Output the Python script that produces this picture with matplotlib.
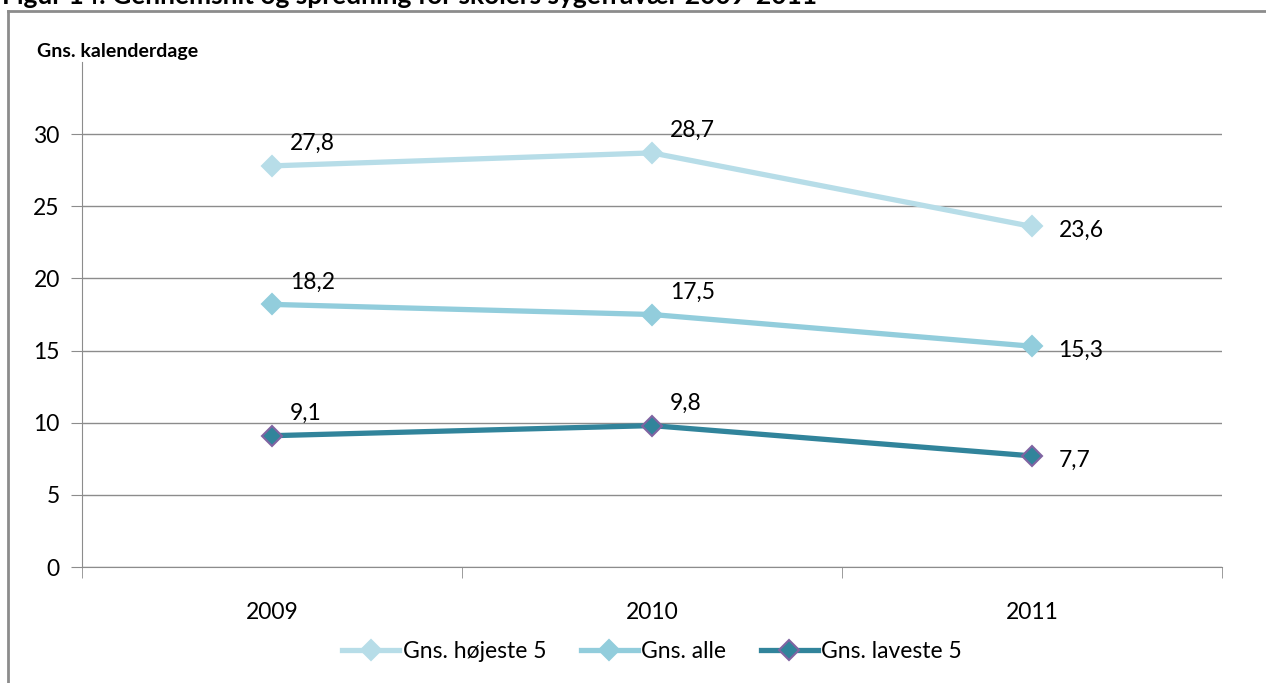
import matplotlib.pyplot as plt
from matplotlib.lines import Line2D

plt.rcParams['font.family'] = ['Lato', 'DejaVu Sans']

years = ['2009', '2010', '2011']
hoejeste = [27.8, 28.7, 23.6]
alle = [18.2, 17.5, 15.3]
laveste = [9.1, 9.8, 7.7]
names = ['Gns. højeste 5', 'Gns. alle', 'Gns. laveste 5']

W, H = 1266, 683
fig = plt.figure(figsize=(W / 100, H / 100), dpi=100)
ax = fig.add_axes([82 / W, 116 / H, (1222 - 82) / W, (567 - 62) / H])

# outer chart frame (only top and left edges visible)
fig.add_artist(Line2D([8 / W, 8 / W], [0, (H - 11) / H], color='#8c8c8c', lw=2))
fig.add_artist(Line2D([8 / W, 1], [(H - 11) / H, (H - 11) / H], color='#8c8c8c', lw=2))

fig.text(2 / W, (H - 4) / H, 'Figur 14: Gennemsnit og spredning for skolers sygefravær 2009-2011',
         fontsize=19, fontweight='bold', va='baseline', ha='left')
fig.text(37 / W, (H - 52) / H, 'Gns. kalenderdage', fontsize=14, fontweight='bold',
         va='center', ha='left')

x = range(len(years))
styles = [
    (hoejeste, '#b7dde8', '#b7dde8'),
    (alle, '#92cddc', '#92cddc'),
    (laveste, '#31849b', '#8064a2'),
]
for (vals, col, edge), name in zip(styles, names):
    ax.plot(x, vals, color=col, lw=3.8, marker='D', ms=10, mfc=col, mec=edge,
            mew=1.5, label=name, zorder=3)
    for i, v in enumerate(vals):
        lbl = f'{v:.1f}'.replace('.', ',')
        if i == len(vals) - 1:
            ax.annotate(lbl, (i, v), xytext=(19, -3), textcoords='offset points',
                        fontsize=16.5, va='center', ha='left')
        else:
            ax.annotate(lbl, (i, v), xytext=(13, 16), textcoords='offset points',
                        fontsize=16.5, va='center', ha='left')

ax.set_xlim(-0.5, 2.5)
ax.set_ylim(0, 35)
ax.set_yticks(range(0, 31, 5))
ax.set_xticks(x)
ax.set_xticklabels(years)
ax.set_xticks([-0.5, 0.5, 1.5, 2.5], minor=True)
ax.tick_params(axis='x', which='major', length=0, pad=25, labelsize=16.5)
ax.tick_params(axis='x', which='minor', length=8, direction='in', color='#8c8c8c')
ax.tick_params(axis='y', length=8, direction='out', color='#8c8c8c', labelsize=16.5, pad=8)
ax.grid(axis='y', color='#8c8c8c', lw=1)
ax.set_axisbelow(True)
for s in ['top', 'right']:
    ax.spines[s].set_visible(False)
for s in ['left', 'bottom']:
    ax.spines[s].set_color('#8c8c8c')
ax.tick_params(axis='x', which='minor', direction='out')

ax.legend(loc='center', bbox_to_anchor=(0.5, -0.168), ncol=3, frameon=False,
          fontsize=16.5, handlelength=2.5, columnspacing=1.5, handletextpad=0.15)

fig.savefig('out.png', dpi=100)
